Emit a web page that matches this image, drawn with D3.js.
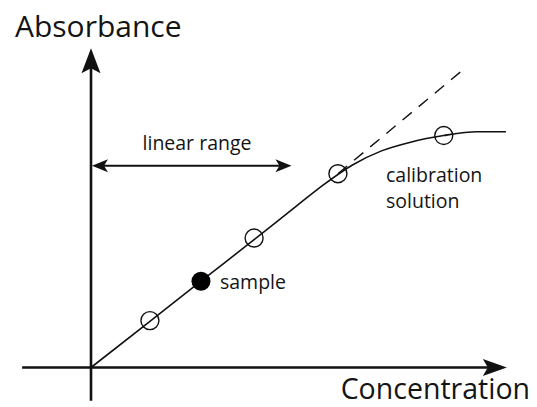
<!DOCTYPE html>
<html>
<head>
<meta charset="utf-8">
<script src="https://cdn.jsdelivr.net/npm/d3@7"></script>
<style>
  html, body { margin: 0; padding: 0; background: #fff; }
  svg { display: block; }
  text { font-family: "Open Sans", "DejaVu Sans", sans-serif; fill: #141414; }
  .lbl { font-weight: 500; }
</style>
</head>
<body>
<svg id="chart" width="537" height="407"></svg>
<script>
// ---- data (concentration / absorbance in arbitrary units) ----
const calibrationConc = [1.42, 3.93, 5.95, 8.5];
const calibrationAbs  = [1.13, 3.12, 4.67, 5.59];
const sampleConc = [2.65];
const sampleAbs  = [2.08];
const curveConc = [0, 1.42, 2.65, 3.93, 5.0, 5.6, 6.3, 7.0, 7.7, 8.5, 9.3, 10.0];
const curveAbs  = [0, 1.11, 2.08, 3.08, 3.93, 4.40, 4.88, 5.22, 5.43, 5.59, 5.68, 5.68];
const extrapConc = [5.95, 8.9];
const extrapAbs  = [4.67, 7.12];
const linearRange = [0, 4.83];
const linearRangeAbs = 4.86;
const axisTitles = { x: "Concentration", y: "Absorbance" };
const labels = ["linear range", "sample", "calibration", "solution"];

const svg = d3.select("#chart");
const x = d3.scaleLinear().domain([0, 10]).range([91, 506]);
const y = d3.scaleLinear().domain([0, 8]).range([367.5, 35.5]);

const ink = "#111";

// arrowhead helper: tip at (tx,ty), pointing in direction angle (radians)
function arrowHead(tx, ty, angle, len, half, notch) {
  const c = Math.cos(angle), s = Math.sin(angle);
  const pt = (a, b) => [tx - a * c - b * (-s), ty - a * s - b * c];
  const p1 = pt(len, half), p2 = pt(len - notch, 0), p3 = pt(len, -half);
  return `M${tx},${ty}L${p1[0]},${p1[1]}L${p2[0]},${p2[1]}L${p3[0]},${p3[1]}Z`;
}

// axes
const xMin = -1.66, xMax = 10.02, yMin = -0.8, yMax = 7.69;
svg.append("line").attr("x1", x(xMin)).attr("x2", x(xMax) - 10)
  .attr("y1", y(0)).attr("y2", y(0)).attr("stroke", ink).attr("stroke-width", 2.6);
svg.append("path").attr("d", arrowHead(x(xMax), y(0), 0, 24, 8.5, 5)).attr("fill", ink);
svg.append("line").attr("x1", x(0)).attr("x2", x(0))
  .attr("y1", y(yMin)).attr("y2", y(yMax) + 10).attr("stroke", ink).attr("stroke-width", 2.6);
svg.append("path").attr("d", arrowHead(x(0), y(yMax), -Math.PI / 2, 25, 9.5, 5)).attr("fill", ink);

// axis titles
svg.append("text").attr("x", 15).attr("y", 37).attr("font-size", 30).text(axisTitles.y);
svg.append("text").attr("x", 530).attr("y", 399).attr("text-anchor", "end")
  .attr("font-size", 28.5).text(axisTitles.x);

// dashed extrapolation
svg.append("line")
  .attr("x1", x(extrapConc[0])).attr("y1", y(extrapAbs[0]))
  .attr("x2", x(extrapConc[1])).attr("y2", y(extrapAbs[1]))
  .attr("stroke", ink).attr("stroke-width", 1.4).attr("stroke-dasharray", "12,9");

// calibration curve
const pts = curveConc.map((c, i) => [c, curveAbs[i]]);
svg.append("path")
  .attr("d", d3.line().x(d => x(d[0])).y(d => y(d[1])).curve(d3.curveMonotoneX)(pts))
  .attr("fill", "none").attr("stroke", ink).attr("stroke-width", 1.6);

// calibration points
svg.selectAll("circle.cal").data(calibrationConc).join("circle")
  .attr("class", "cal")
  .attr("cx", d => x(d)).attr("cy", (d, i) => y(calibrationAbs[i]))
  .attr("r", 9).attr("fill", "none").attr("stroke", ink).attr("stroke-width", 1.4);

// sample
svg.selectAll("circle.sample").data(sampleConc).join("circle")
  .attr("class", "sample")
  .attr("cx", d => x(d)).attr("cy", (d, i) => y(sampleAbs[i]))
  .attr("r", 9.5).attr("fill", "#000");

// linear range arrow
const ly = y(linearRangeAbs);
svg.append("line").attr("x1", x(linearRange[0]) + 8).attr("x2", x(linearRange[1]) - 8)
  .attr("y1", ly).attr("y2", ly).attr("stroke", ink).attr("stroke-width", 2);
svg.append("path").attr("d", arrowHead(x(linearRange[0]) + 1, ly, Math.PI, 16, 6.5, 4)).attr("fill", ink);
svg.append("path").attr("d", arrowHead(x(linearRange[1]), ly, 0, 16, 6.5, 4)).attr("fill", ink);

// labels
svg.append("text").attr("class", "lbl").attr("x", 197).attr("y", 150).attr("text-anchor", "middle")
  .attr("font-size", 19.5).text(labels[0]);
svg.append("text").attr("class", "lbl").attr("x", x(sampleConc[0]) + 19).attr("y", 289)
  .attr("font-size", 19.5).text(labels[1]);
svg.append("text").attr("class", "lbl").attr("x", 386).attr("y", 182).attr("font-size", 19.5).text(labels[2]);
svg.append("text").attr("class", "lbl").attr("x", 386).attr("y", 208).attr("font-size", 19.5).text(labels[3]);
</script>
</body>
</html>
